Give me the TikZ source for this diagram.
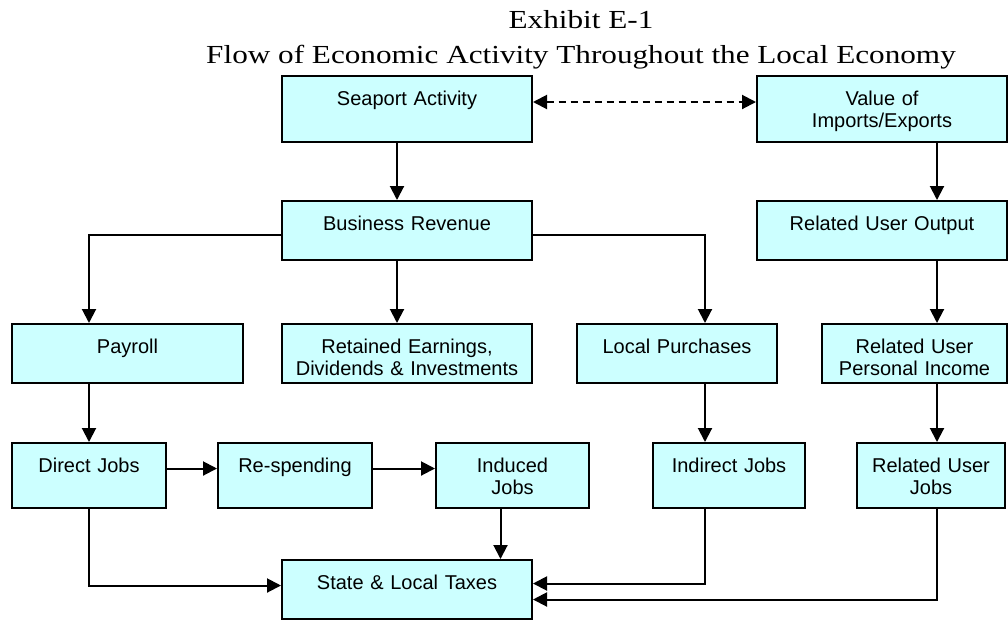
\documentclass[tikz,border=0pt]{standalone}
\usepackage{fontspec}
\setmainfont{Liberation Sans}
\newfontfamily\titlefont[FakeStretch=1.2]{Liberation Serif}
\usetikzlibrary{arrows.meta}
\definecolor{boxcyan}{HTML}{CCFFFF}
\tikzset{
  stage/.style={draw, line width=2pt, fill=boxcyan, anchor=north west,
    align=center, inner xsep=0pt, inner ysep=0pt, text height=29pt, text depth=#1,
    font=\fontsize{20}{22.5}\selectfont},
  stage/.default=30pt,
  conn/.style={line width=2pt, -{Triangle[length=14pt,width=14pt]}},
  heading/.style={anchor=base, font=\titlefont\fontsize{26}{30}\selectfont},
}
\begin{document}
\begin{tikzpicture}[x=1pt, y=-1pt]
\useasboundingbox (0,0) rectangle (1008,619);
\node[heading] (exhibit) at (581,28) {Exhibit E-1};
\node[heading] (title) at (581,63) {Flow of Economic Activity Throughout the Local Economy};
% boxes, placed by their top left corners
\node[stage=37pt, text width=250pt] (seaport) at (281,75) {Seaport Activity};
\node[stage=37pt, text width=250pt] (value) at (756,75) {Value of\\Imports/Exports};
\node[stage, text width=250pt] (revenue) at (281,200) {Business Revenue};
\node[stage, text width=250pt] (output) at (756,200) {Related User Output};
\node[stage, text width=231pt] (payroll) at (11,323) {Payroll};
\node[stage, text width=250pt] (retained) at (281,323) {Retained Earnings,\\Dividends \& Investments};
\node[stage, text width=200pt] (purchases) at (576,323) {Local Purchases};
\node[stage, text width=185pt] (income) at (821,323) {Related User\\Personal Income};
\node[stage=36pt, text width=154pt] (direct) at (11,442) {Direct Jobs};
\node[stage=36pt, text width=154pt] (respend) at (217,442) {Re-spending};
\node[stage=36pt, text width=153pt] (induced) at (435,442) {Induced\\Jobs};
\node[stage=36pt, text width=152pt] (indirect) at (652,442) {Indirect Jobs};
\node[stage=36pt, text width=148pt] (userjobs) at (856,442) {Related User\\Jobs};
\node[stage, text width=250pt] (taxes) at (281,559) {State \& Local Taxes};
% columns of the off-centre arrows
\coordinate (lcol) at (397,0);
\coordinate (mcol) at (705,0);
\coordinate (rcol) at (937,0);
\draw[conn, dashed, dash pattern=on 7pt off 5pt, {Triangle[length=14pt,width=14pt]}-{Triangle[length=14pt,width=14pt]}] ([yshift=7pt]seaport.east) -- ([yshift=7pt]value.west);
\draw[conn] (seaport.south -| lcol) -- (revenue.north -| lcol);
\draw[conn] (value.south -| rcol) -- (output.north -| rcol);
\draw[conn] ([yshift=-4pt]revenue.west) -| (direct.north |- payroll.north);
\draw[conn] (revenue.south -| lcol) -- (retained.north -| lcol);
\draw[conn] ([yshift=-4pt]revenue.east) -| (mcol |- purchases.north);
\draw[conn] (output.south -| rcol) -- (income.north -| rcol);
\draw[conn] (direct.north |- payroll.south) -- (direct);
\draw[conn] (mcol |- purchases.south) -- (mcol |- indirect.north);
\draw[conn] (income.south -| rcol) -- (userjobs.north -| rcol);
\draw[conn] ([yshift=7pt]direct.east) -- ([yshift=7pt]respend.west);
\draw[conn] ([yshift=7pt]respend.east) -- ([yshift=7pt]induced.west);
\draw[conn] ([xshift=-12pt]induced.south) -- ([xshift=-12pt]induced.south |- taxes.north);
\draw[conn] (direct.south) |- ([yshift=4pt]taxes.west);
\draw[conn] (mcol |- indirect.south) |- ([yshift=6pt]taxes.east);
\draw[conn] (rcol |- userjobs.south) |- ([yshift=-10pt]taxes.east);
\end{tikzpicture}
\end{document}
